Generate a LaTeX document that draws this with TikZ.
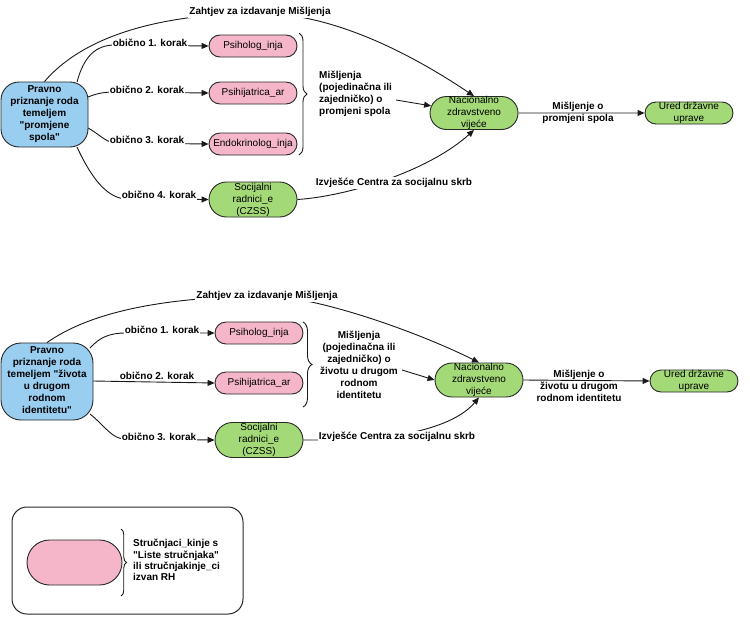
\documentclass[tikz,border=0pt]{standalone}
\usepackage{fontspec}
\setmainfont{Liberation Sans}[Ligatures=TeXOff]
\usetikzlibrary{arrows.meta,shapes.misc,decorations.pathreplacing}
\definecolor{blueC}{RGB}{153,206,240}
\definecolor{pinkC}{RGB}{244,182,200}
\definecolor{greenC}{RGB}{163,217,119}
\definecolor{strokeC}{RGB}{40,40,40}
\definecolor{lineC}{RGB}{25,25,25}
\begin{document}
\begin{tikzpicture}[x=1pt,y=-1pt,
  font=\fontsize{10}{12}\selectfont,
  box/.style={draw=strokeC, line width=0.9pt, inner sep=0pt},
  stadium/.style={box, rounded rectangle, minimum width=88pt},
  pinkbox/.style={stadium, fill=pinkC, minimum height=22pt},
  greentall/.style={stadium, fill=greenC, minimum height=35pt},
  greenmid/.style={stadium, fill=greenC, minimum height=33pt},
  greenshort/.style={stadium, fill=greenC, minimum height=22pt},
  bluebox/.style={box, fill=blueC, rounded corners=18pt},
  txt/.style={align=center, inner sep=0pt},
  btxt/.style={font=\fontsize{10}{12}\selectfont\bfseries, align=center, inner sep=0pt},
  lbl/.style={font=\fontsize{10}{12}\selectfont\bfseries, fill=white, inner xsep=1pt, inner ysep=1.5pt},
  conn/.style={draw=lineC, line width=0.9pt},
  arr/.style={conn, -{Triangle[length=7pt,width=6pt]}},
  brc/.style={draw=lineC, line width=0.9pt, decorate, decoration={brace, amplitude=#1}},
  brc/.default=8pt
]
\useasboundingbox (0,0) rectangle (750,624);

% ================= Section 1 =================
\node[bluebox, minimum width=87pt, minimum height=65pt] (b1) at (44.5,114.5) {};
\node[btxt] (b1t) at (b1) {Pravno\\priznanje roda\\temeljem\\"promjene\\spola"};

\node[pinkbox] (p11) at (253,46) {};
\node[txt] (p11t) at (p11) {Psiholog\_inja};
\node[pinkbox] (p12) at (253,93) {};
\node[txt] (p12t) at (p12) {Psihijatrica\_ar};
\node[pinkbox] (p13) at (253,144) {};
\node[txt] (p13t) at (p13) {Endokrinolog\_inja};
\node[greentall] (s1) at (253,199.5) {};
\node[txt] (s1t) at (s1) {Socijalni\\radnici\_e\\(CZSS)};

\node[greenmid] (n1) at (474,113) {};
\node[txt] (n1t) at (n1) {Nacionalno\\zdravstveno\\vijeće};
\node[greenshort] (u1) at (689,113) {};
\node[txt] (u1t) at (u1) {Ured državne\\uprave};

\draw[brc] (299,33) -- (299,155);
\node[btxt, align=left, anchor=west] (m1t) at (319,94) {Mišljenja\\(pojedinačna ili\\zajedničko) o\\promjeni spola};

\coordinate (c11) at (77,82);
\coordinate (c12) at (88,97);
\coordinate (c13) at (88,128);
\coordinate (c14) at (77,147);
\coordinate (m1) at (396,100);

\draw[arr] (b1.north) .. controls (80,40) and (150,14) .. (260,13)
  .. controls (340,14) and (420,60) .. (n1.north);
\draw[arr] (c11) .. controls (84,56) and (96,45) .. (115,45) -- (p11.west);
\draw[arr] (c12) .. controls (98,93) and (105,92) .. (115,92) -- (p12.west);
\draw[arr] (c13) .. controls (98,133) and (105,142) .. (115,143) -- (p13.west);
\draw[arr] (c14) .. controls (90,175) and (105,197) .. (125,199) -- (s1.west);
\draw[arr] (m1) -- (n1);
\draw[arr] (n1) -- (u1);
\draw[arr] (s1.east) .. controls (350,196) and (430,170) .. (n1.south);

\node[lbl] (z1) at (260,12) {Zahtjev za izdavanje Mišljenja};
\node[lbl] (k11) at (150,43) {obično 1. korak};
\node[lbl] (k12) at (147,90) {obično 2. korak};
\node[lbl] (k13) at (147,140) {obično 3. korak};
\node[lbl] (k14) at (159,195) {obično 4. korak};
\node[lbl] (i1) at (394,183) {Izvješće Centra za socijalnu skrb};
\node[btxt] (mo1) at (578,113) {Mišljenje o\\promjeni spola};

% ================= Section 2 =================
\node[bluebox, rounded corners=20pt, minimum width=92pt, minimum height=77pt] (b2) at (47,381.5) {};
\node[btxt] (b2t) at (47,380) {Pravno\\priznanje roda\\temeljem "života\\u drugom\\rodnom\\identitetu"};

\node[pinkbox] (p21) at (259,333) {};
\node[txt] (p21t) at (p21) {Psiholog\_inja};
\node[pinkbox] (p22) at (259,383) {};
\node[txt] (p22t) at (p22) {Psihijatrica\_ar};
\node[greentall] (s2) at (259,440) {};
\node[txt] (s2t) at (s2) {Socijalni\\radnici\_e\\(CZSS)};

\node[greenmid, minimum height=34pt] (n2) at (479,380) {};
\node[txt] (n2t) at (n2) {Nacionalno\\zdravstveno\\vijeće};
\node[greenshort] (u2) at (694,381) {};
\node[txt] (u2t) at (u2) {Ured državne\\uprave};

\draw[brc=9pt] (303,322) -- (303,407);
\node[btxt] (m2t) at (359,364.5) {Mišljenja\\(pojedinačna ili\\zajedničko) o\\životu u drugom\\rodnom\\identitetu};

\coordinate (c21) at (90,348);
\coordinate (c22) at (93,381);
\coordinate (c23) at (90,414);
\coordinate (m2) at (402,370);

\draw[arr] (b2.north) .. controls (85,316) and (150,297) .. (267,296)
  .. controls (320,297) and (420,333) .. (n2.north);
\draw[arr] (c21) .. controls (100,337) and (110,333) .. (126,333) -- (p21.west);
\draw[arr] (c22) -- (p22.west);
\draw[arr] (c23) .. controls (105,426) and (112,439) .. (125,439) -- (s2.west);
\draw[arr] (m2) -- (n2.west);
\draw[arr] (n2.east) -- (u2.west);
\draw[arr] (s2.east) -- (325,440) .. controls (420,440) and (460,420) .. (n2.south);

\node[lbl] (z2) at (267,296) {Zahtjev za izdavanje Mišljenja};
\node[lbl] (k21) at (162,330) {obično 1. korak};
\node[lbl] (k22) at (157,376) {obično 2. korak};
\node[lbl] (k23) at (159,437) {obično 3. korak};
\node[lbl] (i2) at (397,437) {Izvješće Centra za socijalnu skrb};
\node[btxt] (mo2) at (579,386) {Mišljenje o\\životu u drugom\\rodnom identitetu};

% ================= Legend =================
\node[box, line width=1pt, rounded corners=15pt, minimum width=231pt, minimum height=107pt] (leg) at (127.5,560.5) {};
\node[stadium, fill=pinkC, minimum width=95pt, minimum height=45pt] (legp) at (74.5,562.5) {};
\draw[brc=5.5pt] (121,529) -- (121,596);
\node[btxt, align=left, anchor=west, font=\fontsize{10}{11.3}\selectfont\bfseries] (legt) at (133,560) {Stručnjaci\_kinje s\\"Liste stručnjaka"\\ili stručnjakinje\_ci\\izvan RH};
\end{tikzpicture}
\end{document}
